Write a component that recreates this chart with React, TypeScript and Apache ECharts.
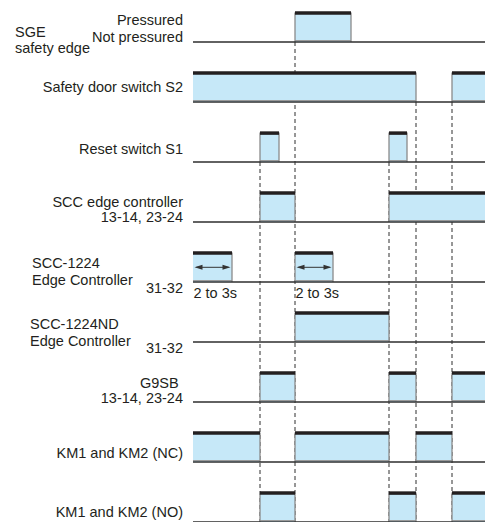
import React, { useEffect, useRef } from "react";
import * as echarts from "echarts";

// Timing-diagram data (x in time units from 0 to timeEnd)
const timeEnd = 292;
const rowLabels = [
  "SGE safety edge",
  "Safety door switch S2",
  "Reset switch S1",
  "SCC edge controller 13-14, 23-24",
  "SCC-1224 Edge Controller 31-32",
  "SCC-1224ND Edge Controller 31-32",
  "G9SB 13-14, 23-24",
  "KM1 and KM2 (NC)",
  "KM1 and KM2 (NO)",
];
const sgePulses = [[102, 158]];
const s2Pulses = [[0, 223], [259, 292]];
const s1Pulses = [[67, 86], [196, 214]];
const sccPulses = [[67, 102], [196, 292]];
const scc1224Pulses = [[0, 39], [102, 140]];
const scc1224ndPulses = [[102, 196]];
const g9sbPulses = [[67, 102], [196, 223], [259, 292]];
const kmNcPulses = [[0, 67], [102, 196], [223, 259]];
const kmNoPulses = [[67, 102], [196, 223], [259, 292]];
const allRows = [sgePulses, s2Pulses, s1Pulses, sccPulses, scc1224Pulses, scc1224ndPulses, g9sbPulses, kmNcPulses, kmNoPulses];

// Duration annotations on the SCC-1224 row
const durationRow = 4;
const durationStarts = [0, 102];
const durationEnds = [39, 140];
const durationLabels = ["2 to 3s", "2 to 3s"];

// Dashed event markers: time and row from which they descend
const markerTimes = [67, 102, 196, 223, 259];
const markerFromRows = [2, 0, 2, 1, 1];

const PULSE_H = 0.49;
const INK = "#231f20";
const FILL = "#c6e8f8";
const FONT = "'Liberation Sans', Arial, Helvetica, sans-serif";
const FS = 14.5;

function txt(text: string, x: number, y: number, align: string = "right") {
  return {
    type: "text",
    x,
    y,
    style: { text, fill: INK, font: `${FS}px ${FONT}`, textAlign: align, textVerticalAlign: "middle" },
  };
}

export default function App() {
  const ref = useRef<HTMLDivElement>(null);
  useEffect(() => {
    if (!ref.current) return;
    const chart = echarts.init(ref.current, undefined, { renderer: "svg" });

    const pulseData: number[][] = [];
    allRows.forEach((pulses, r) => pulses.forEach(([s, e]) => pulseData.push([r, s, e])));
    const baselineData = rowLabels.map((_, r) => [r, 0, timeEnd]);
    const markerData = markerTimes.map((t, i) => [t, markerFromRows[i]]);
    const durationData = durationStarts.map((s, i) => [durationRow, s, durationEnds[i]]);

    const option: any = {
      animation: false,
      backgroundColor: "#ffffff",
      grid: { left: 193, width: 292, top: 0, height: 525 },
      xAxis: { type: "value", min: 0, max: timeEnd, show: false },
      yAxis: { type: "value", min: -0.7, max: 8, inverse: true, show: false },
      series: [
        {
          type: "custom",
          name: "markers",
          z: 1,
          data: markerData,
          encode: { x: 0, y: 1 },
          renderItem: (params: any, api: any) => {
            const p0 = api.coord([api.value(0), api.value(1)]);
            const p1 = api.coord([api.value(0), 8.2]);
            return {
              type: "line",
              shape: { x1: p0[0], y1: p0[1], x2: p1[0], y2: p1[1] },
              style: { stroke: "#2e2e2e", lineWidth: 1, lineDash: [4, 3] },
            };
          },
        },
        {
          type: "custom",
          name: "pulses",
          z: 2,
          data: pulseData,
          encode: { x: [1, 2], y: 0 },
          renderItem: (params: any, api: any) => {
            const row = api.value(0);
            const s = api.value(1);
            const e = api.value(2);
            const p0 = api.coord([s, row]);
            const p1 = api.coord([e, row - PULSE_H]);
            const children: any[] = [
              {
                type: "rect",
                shape: { x: p0[0], y: p1[1], width: p1[0] - p0[0], height: p0[1] - p1[1] },
                style: { fill: FILL },
              },
              {
                type: "line",
                shape: { x1: p0[0], y1: p0[1] - 1.5, x2: p1[0], y2: p0[1] - 1.5 },
                style: { stroke: "#9a9a9a", lineWidth: 1 },
              },
            ];
            if (s > 0)
              children.push({
                type: "line",
                shape: { x1: p0[0], y1: p1[1], x2: p0[0], y2: p0[1] },
                style: { stroke: "#8a8a8a", lineWidth: 1.3 },
              });
            if (e < timeEnd)
              children.push({
                type: "line",
                shape: { x1: p1[0], y1: p1[1], x2: p1[0], y2: p0[1] },
                style: { stroke: "#8a8a8a", lineWidth: 1.3 },
              });
            children.push({
              type: "line",
              shape: { x1: p0[0], y1: p1[1] + 0.5, x2: p1[0], y2: p1[1] + 0.5 },
              style: { stroke: INK, lineWidth: 3.5 },
            });
            return { type: "group", children };
          },
        },
        {
          type: "custom",
          name: "baselines",
          z: 3,
          data: baselineData,
          encode: { x: [1, 2], y: 0 },
          renderItem: (params: any, api: any) => {
            const p0 = api.coord([api.value(1), api.value(0)]);
            const p1 = api.coord([api.value(2), api.value(0)]);
            return {
              type: "line",
              shape: { x1: p0[0], y1: p0[1], x2: p1[0], y2: p1[1] },
              style: { stroke: "#2e2e2e", lineWidth: 1.6 },
            };
          },
        },
        {
          type: "custom",
          name: "durations",
          z: 4,
          data: durationData,
          encode: { x: [1, 2], y: 0 },
          renderItem: (params: any, api: any) => {
            const row = api.value(0);
            const a = api.coord([api.value(1), row - PULSE_H / 2]);
            const b = api.coord([api.value(2), row - PULSE_H / 2]);
            const base = api.coord([api.value(1), row]);
            const x0 = a[0] + 1.5;
            const x1 = b[0] - 1.5;
            const y = a[1];
            return {
              type: "group",
              children: [
                {
                  type: "line",
                  shape: { x1: x0 + 2, y1: y, x2: x1 - 2, y2: y },
                  style: { stroke: "#333", lineWidth: 1 },
                },
                {
                  type: "polygon",
                  shape: { points: [[x0, y], [x0 + 8, y - 2.5], [x0 + 8, y + 2.5]] },
                  style: { fill: "#333" },
                },
                {
                  type: "polygon",
                  shape: { points: [[x1, y], [x1 - 8, y - 2.5], [x1 - 8, y + 2.5]] },
                  style: { fill: "#333" },
                },
                {
                  type: "text",
                  x: a[0] + 0.5,
                  y: base[1] + 10.5,
                  style: {
                    text: durationLabels[params.dataIndex],
                    fill: INK,
                    font: `${FS}px ${FONT}`,
                    textAlign: "left",
                    textVerticalAlign: "middle",
                  },
                },
              ],
            };
          },
        },
      ],
      graphic: [
        txt("Pressured", 183, 20),
        txt("Not pressured", 183, 37),
        txt("SGE", 15, 32, "left"),
        txt("safety edge", 15, 48, "left"),
        txt("Safety door switch S2", 183, 87),
        txt("Reset switch S1", 183, 149),
        txt("SCC edge controller", 183, 202),
        txt("13-14, 23-24", 183, 217),
        txt("SCC-1224", 32, 263, "left"),
        txt("Edge Controller", 32, 280, "left"),
        txt("31-32", 183, 288),
        txt("SCC-1224ND", 30, 324, "left"),
        txt("Edge Controller", 30, 341, "left"),
        txt("31-32", 183, 348),
        txt("G9SB", 140, 383, "left"),
        txt("13-14, 23-24", 183, 398),
        txt("KM1 and KM2 (NC)", 183, 453),
        txt("KM1 and KM2 (NO)", 183, 512),
      ],
    };
    chart.setOption(option);
    return () => chart.dispose();
  }, []);
  return (
    <div
      ref={ref}
      style={{ position: "fixed", left: 0, top: 0, width: 485, height: 522, background: "#fff" }}
    />
  );
}
